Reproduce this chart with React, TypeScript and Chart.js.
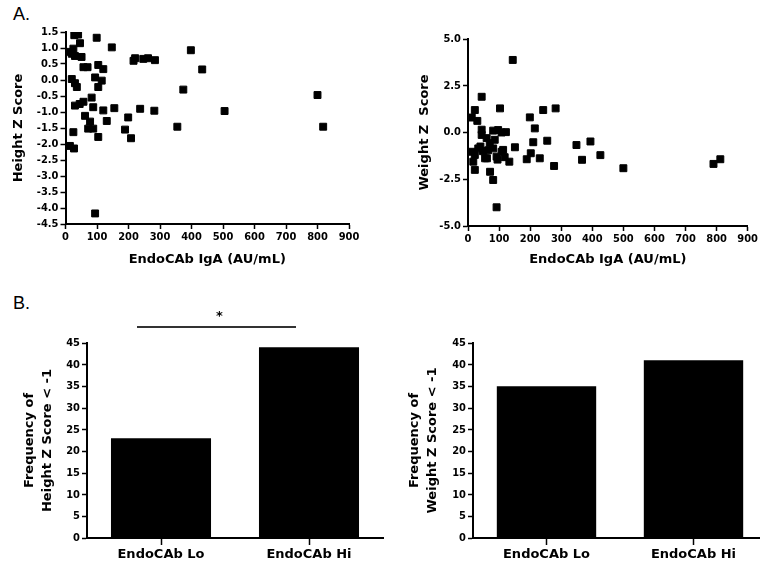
import React, { useEffect, useRef } from "react";
import { Chart, registerables } from "chart.js";

Chart.register(...registerables);

// ---- Data ----
const heightX = [28, 40, 99, 147, 46, 25, 12, 30, 51, 20, 221, 247, 262, 284, 216, 57, 70, 104, 120, 20, 36, 30, 94, 104, 115, 30, 45, 57, 83, 88, 120, 155, 62, 78, 72, 88, 131, 199, 189, 208, 104, 25, 14, 27, 94, 237, 282, 355, 374, 398, 434, 505, 800, 818];
const heightY = [1.40, 1.42, 1.32, 1.02, 1.15, 0.98, 0.88, 0.75, 0.72, 0.82, 0.68, 0.66, 0.68, 0.62, 0.60, 0.40, 0.40, 0.47, 0.34, 0.03, -0.22, -0.10, 0.08, -0.22, -0.02, -0.80, -0.75, -0.68, -0.55, -0.85, -0.95, -0.88, -1.12, -1.30, -1.52, -1.52, -1.28, -1.17, -1.55, -1.82, -1.78, -1.63, -2.06, -2.14, -4.17, -0.90, -0.96, -1.46, -0.30, 0.93, 0.33, -0.97, -0.47, -1.46];

const weightX = [144, 44, 22, 103, 242, 282, 199, 215, 12, 30, 44, 81, 97, 122, 44, 60, 108, 151, 210, 255, 349, 394, 426, 367, 500, 790, 812, 277, 231, 189, 202, 33, 22, 17, 22, 55, 81, 92, 108, 133, 71, 81, 92, 12, 48, 65, 70, 86, 113, 118, 61, 40, 95];
const weightY = [3.88, 1.91, 1.20, 1.29, 1.20, 1.29, 0.81, 0.22, 0.80, 0.62, 0.15, 0.10, 0.13, 0.02, -0.13, -0.30, 0.00, -0.79, -0.52, -0.44, -0.67, -0.48, -1.21, -1.46, -1.91, -1.68, -1.43, -1.79, -1.38, -1.43, -1.11, -0.85, -1.20, -1.56, -2.00, -1.38, -0.85, -1.29, -1.03, -1.56, -2.10, -2.54, -4.00, -1.03, -1.00, -0.95, -0.57, -0.39, -0.93, -1.32, -1.38, -0.75, -1.45];

const barCategories = ["EndoCAb Lo", "EndoCAb Hi"];
const heightFreq = [23, 44];
const weightFreq = [35, 41];

const xAxisTitle = "EndoCAb IgA (AU/mL)";
const heightTitle = "Height Z Score";
const weightTitle = "Weight Z  Score";
const heightFreqTitle = ["Frequency of", "Height Z Score < -1"];
const weightFreqTitle = ["Frequency of", "Weight Z Score < -1"];

// ---- Styles ----
const TICK_FONT = { family: "'DejaVu Sans Condensed', 'DejaVu Sans', sans-serif", size: 11, weight: "bold" as const };
const TITLE_FONT = { family: "'DejaVu Sans', sans-serif", size: 13, weight: "bold" as const };
const CAT_FONT = { family: "'DejaVu Sans', sans-serif", size: 13, weight: "bold" as const };

function axisBase() {
  return {
    grid: { drawOnChartArea: false, drawTicks: true, tickLength: 5, tickColor: "#000", tickWidth: 1.5 },
    border: { color: "#000", width: 2 },
  };
}

function scatterConfig(
  xs: number[],
  ys: number[],
  yTitle: string,
  yMin: number,
  yMax: number,
  yStep: number,
  pad: { top: number; right: number },
  yWidth: number,
  yTitlePad: number,
  xHeight: number
): any {
  return {
    type: "scatter",
    data: {
      datasets: [
        {
          data: xs.map((x, i) => ({ x, y: ys[i] })),
          pointStyle: "rect",
          pointRadius: 4.9,
          backgroundColor: "#000",
          borderColor: "#000",
          borderWidth: 1,
        },
      ],
    },
    options: {
      animation: false,
      responsive: false,
      layout: { padding: { top: pad.top, right: pad.right, left: 0, bottom: 0 } },
      plugins: { legend: { display: false }, tooltip: { enabled: false } },
      scales: {
        x: {
          type: "linear",
          min: 0,
          max: 900,
          ...axisBase(),
          ticks: { stepSize: 100, font: TICK_FONT, color: "#000", padding: 2, maxRotation: 0, autoSkip: false },
          title: { display: true, text: xAxisTitle, font: TITLE_FONT, color: "#000", padding: { top: 0, bottom: 3 } },
          afterFit: (s: any) => {
            s.height = xHeight;
          },
        },
        y: {
          type: "linear",
          min: yMin,
          max: yMax,
          ...axisBase(),
          ticks: {
            stepSize: yStep,
            font: TICK_FONT,
            color: "#000",
            padding: 2,
            autoSkip: false,
            callback: (v: any) => Number(v).toFixed(1),
          },
          title: { display: true, text: yTitle, font: TITLE_FONT, color: "#000", padding: { top: yTitlePad, bottom: 0 } },
          afterFit: (s: any) => {
            s.width = yWidth;
          },
        },
      },
    },
  };
}

function barConfig(values: number[], yTitle: string[], pad: { top: number; right: number }, yWidth: number, withSig: boolean): any {
  const plugins: any[] = [];
  if (withSig) {
    plugins.push({
      id: "sig",
      afterDraw(chart: any) {
        const ctx = chart.ctx;
        const xs = chart.scales.x;
        const x1 = xs.getPixelForValue(0) - 24;
        const x2 = xs.getPixelForValue(1) - 13;
        ctx.save();
        ctx.strokeStyle = "#333";
        ctx.lineWidth = 2;
        ctx.beginPath();
        ctx.moveTo(x1, 47);
        ctx.lineTo(x2, 47);
        ctx.stroke();
        ctx.fillStyle = "#000";
        ctx.font = "bold 13px 'DejaVu Sans', sans-serif";
        ctx.textAlign = "center";
        ctx.textBaseline = "alphabetic";
        ctx.fillText("*", (x1 + x2) / 2 + 3, 40);
        ctx.restore();
      },
    });
  }
  return {
    type: "bar",
    data: {
      labels: barCategories,
      datasets: [
        {
          data: values,
          backgroundColor: "#000",
          borderColor: "#000",
          borderWidth: 0,
          barPercentage: 0.676,
          categoryPercentage: 1,
        },
      ],
    },
    plugins,
    options: {
      animation: false,
      responsive: false,
      layout: { padding: { top: pad.top, right: pad.right, left: 0, bottom: 0 } },
      plugins: { legend: { display: false }, tooltip: { enabled: false } },
      scales: {
        x: {
          type: "category",
          offset: true,
          grid: { drawOnChartArea: false, drawTicks: true, tickLength: 7, tickColor: "#000", tickWidth: 1.5, offset: false },
          border: { color: "#000", width: 2 },
          ticks: { font: CAT_FONT, color: "#000", padding: 2, maxRotation: 0 },
          afterFit: (s: any) => {
            s.height = 29;
          },
        },
        y: {
          type: "linear",
          min: 0,
          max: 45,
          ...axisBase(),
          ticks: { stepSize: 5, font: TICK_FONT, color: "#000", padding: 2, autoSkip: false },
          title: {
            display: true,
            text: yTitle,
            font: { ...TITLE_FONT, lineHeight: 18 / 13 },
            color: "#000",
            padding: { top: 21, bottom: 0 },
          },
          afterFit: (s: any) => {
            s.width = yWidth;
          },
        },
      },
    },
  };
}

function ChartCanvas({ config, left, top, width, height }: { config: any; left: number; top: number; width: number; height: number }) {
  const ref = useRef<HTMLCanvasElement | null>(null);
  useEffect(() => {
    if (!ref.current) return;
    const chart = new Chart(ref.current, config);
    return () => chart.destroy();
  }, [config]);
  return (
    <canvas
      ref={ref}
      width={width}
      height={height}
      style={{ position: "absolute", left, top, width, height, display: "block" }}
    />
  );
}

const cfgA1 = scatterConfig(heightX, heightY, heightTitle, -4.5, 1.5, 0.5, { top: 32, right: 31 }, 65.5, 10.7, 46);
const cfgA2 = scatterConfig(weightX, weightY, weightTitle, -5, 5, 2.5, { top: 39, right: 12 }, 88, 37, 44);
const cfgB1 = barConfig(heightFreq, heightFreqTitle, { top: 63, right: 2 }, 87, true);
const cfgB2 = barConfig(weightFreq, weightFreqTitle, { top: 63, right: 3 }, 88, false);

export default function App() {
  const labelStyle: React.CSSProperties = {
    position: "absolute",
    fontFamily: "'Liberation Sans', Arial, sans-serif",
    fontSize: 18,
    lineHeight: "18px",
    color: "#000",
  };
  return (
    <div
      style={{
        position: "fixed",
        left: 0,
        top: 0,
        width: 760,
        height: 567,
        overflow: "hidden",
        background: "#fff",
      }}
    >
      <div style={{ ...labelStyle, left: 13, top: 5 }}>A.</div>
      <div style={{ ...labelStyle, left: 13, top: 294 }}>B.</div>
      <ChartCanvas config={cfgA1} left={0} top={0} width={380} height={270} />
      <ChartCanvas config={cfgA2} left={380} top={0} width={380} height={270} />
      <ChartCanvas config={cfgB1} left={0} top={280} width={385} height={287} />
      <ChartCanvas config={cfgB2} left={385} top={280} width={385} height={287} />
    </div>
  );
}
